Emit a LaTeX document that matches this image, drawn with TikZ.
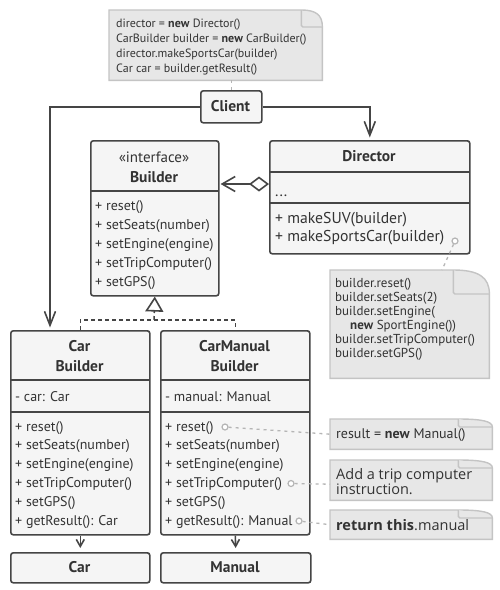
\documentclass[tikz,border=0pt]{standalone}
\usepackage{fontspec}
\setmainfont{PT Sans}
\newfontfamily\opensans{Open Sans}
\usetikzlibrary{arrows.meta,calc}
\definecolor{boxc}{HTML}{454545}
\definecolor{boxfill}{HTML}{F5F5F5}
\definecolor{notefill}{HTML}{E7E7E7}
\definecolor{notedraw}{HTML}{C4C4C4}
\definecolor{dotc}{HTML}{B5B5B5}
\definecolor{txt}{HTML}{333333}
\newcommand\notefold[3]{%
  \filldraw[notestyle] (#1.north west) -- ([xshift=-#2]#1.north east)
    .. controls ([xshift=-#2*0.3]#1.north east) and ([yshift=-#3*0.3]#1.north east) ..
    ([yshift=-#3]#1.north east) -- (#1.south east) -- (#1.south west) -- cycle;
  \draw[notestyle, rounded corners=1.5pt] ([xshift=-#2]#1.north east) -- ([xshift=-#2,yshift=-#3]#1.north east) -- ([yshift=-#3]#1.north east);
}
\begin{document}
\begin{tikzpicture}[x=1pt,y=-1pt,
  cls/.style={draw=boxc, fill=boxfill, line width=1.6pt, rounded corners=2.5pt, inner sep=0, anchor=north west},
  sep/.style={draw=boxc, line width=1.6pt},
  ttl/.style={font=\fontsize{15.5}{18}\selectfont\bfseries, text=txt, inner sep=0, anchor=base},
  stereo/.style={font=\fontsize{15}{18}\selectfont, text=txt, inner sep=0, anchor=base},
  mth/.style={font=\fontsize{14}{16}\selectfont, text=txt, anchor=base west, inner sep=0},
  dmth/.style={font=\fontsize{15.7}{18}\selectfont, text=txt, anchor=base west, inner sep=0},
  notebox/.style={draw=none, inner sep=0, anchor=north west},
  notestyle/.style={draw=notedraw, fill=notefill, line width=1.4pt},
  ntxt/.style={font=\fontsize{12}{14}\selectfont, text=txt, inner sep=0, anchor=base west},
  dtxt/.style={font=\fontsize{13}{14}\selectfont, text=txt, inner sep=0, anchor=base west},
  rtxt/.style={font=\fontsize{14}{16}\selectfont, text=txt, inner sep=0, anchor=base west},
  otxt/.style={font=\opensans\fontsize{14.5}{16}\selectfont, text=txt, inner sep=0, anchor=base west},
  dot/.style={circle, draw=dotc, fill=white, line width=1.2pt, minimum size=6pt, inner sep=0},
  noteline/.style={draw=dotc, line width=1.3pt, dash pattern=on 3pt off 4pt},
  assoc/.style={draw=boxc, line width=1.6pt, -{Straight Barb[length=14pt,width=11pt,line width=1.6pt]}, shorten >=2.5pt},
  agg/.style={draw=boxc, line width=1.6pt, {Diamond[length=20pt,width=15pt,fill=white,line width=1.6pt]}-{Straight Barb[length=13pt,width=15pt,line width=1.6pt]}, shorten >=1pt},
  real/.style={draw=boxc, line width=1.5pt, dash pattern=on 4pt off 3pt},
  dep/.style={draw=boxc, line width=1.6pt, -{Straight Barb[length=7pt,width=8pt,line width=1.6pt]}, shorten >=4pt},
]
\useasboundingbox (0,0) rectangle (500,590);
\fill[white] (0,0) rectangle (500,590);

% ---- top note and client
\node[notebox, minimum width=213pt, minimum height=70pt] (topnote) at (109,10) {};
\notefold{topnote}{21}{17}
\foreach \t [count=\i] in {{director = \textbf{new} Director()},{CarBuilder builder = \textbf{new} CarBuilder()},{director.makeSportsCar(builder)},{Car car = builder.getResult()}}
  \node[ntxt] (top-l\i) at (116,{27.5+15.1*(\i-1)}) {\t};

\node[cls, minimum width=61pt, minimum height=32pt] (client) at (200,90) {};
\node[ttl] (client-t) at (230.5,111.5) {Client};
\draw[noteline] (topnote.south -| client.north) -- (client.north);

% ---- Builder interface
\node[cls, minimum width=128pt, minimum height=155pt] (builder) at (90,140) {};
\draw[sep] (90,191) -- (218,191);
\node[stereo] (builder-s) at (154,162) {«interface»};
\node[ttl] (builder-t) at (154,182.5) {Builder};
\foreach \m [count=\i] in {{+ reset()},{+ setSeats(number)},{+ setEngine(engine)},{+ setTripComputer()},{+ setGPS()}}
  \node[mth] (builder-m\i) at (95,{210+19*(\i-1)}) {\m};

% ---- Director
\node[cls, minimum width=200pt, minimum height=113pt] (director) at (269,140) {};
\draw[sep] (269,172) -- (469,172);
\draw[sep] (269,203) -- (469,203);
\node[ttl] (director-t) at (369,161.5) {Director};
\node[dmth] (director-a) at (275,196) {...};
\node[dmth] (director-m1) at (275,223) {+ makeSUV(builder)};
\node[dmth] (director-m2) at (275,241.5) {+ makeSportsCar(builder)};
\node[dot] (dd) at (455,241) {};

% ---- Director note
\node[notebox, minimum width=159pt, minimum height=108pt] (dnote) at (330,270) {};
\notefold{dnote}{36}{24}
\foreach \t/\dx [count=\i] in {{builder.reset()}/0,{builder.setSeats(2)}/0,{builder.setEngine(}/0,{\textbf{new} SportEngine())}/15,{builder.setTripComputer()}/0,{builder.setGPS()}/0}
  \node[dtxt] (dnote-l\i) at ({335+\dx},{287+14*(\i-1)}) {\t};
\draw[noteline] (dd) -- ([xshift=112pt]dnote.north west);

% ---- CarBuilder
\node[cls, minimum width=139pt, minimum height=204pt] (carb) at (10,330) {};
\draw[sep] (10,380) -- (149,380);
\draw[sep] (10,412) -- (149,412);
\node[ttl] (carb-t1) at (79.5,351.5) {Car};
\node[ttl] (carb-t2) at (79.5,371.5) {Builder};
\node[mth] (carb-a) at (15,401) {- car: Car};
\foreach \m [count=\i] in {{+ reset()},{+ setSeats(number)},{+ setEngine(engine)},{+ setTripComputer()},{+ setGPS()},{+ getResult(): Car}}
  \node[mth] (carb-m\i) at (15,{431+18.8*(\i-1)}) {\m};

% ---- CarManualBuilder
\node[cls, minimum width=149pt, minimum height=204pt] (cmb) at (160,330) {};
\draw[sep] (160,380) -- (309,380);
\draw[sep] (160,412) -- (309,412);
\node[ttl] (cmb-t1) at (234.5,351.5) {CarManual};
\node[ttl] (cmb-t2) at (234.5,371.5) {Builder};
\node[mth] (cmb-a) at (165,401) {- manual: Manual};
\foreach \m [count=\i] in {{+ reset()},{+ setSeats(number)},{+ setEngine(engine)},{+ setTripComputer()},{+ setGPS()},{+ getResult(): Manual}}
  \node[mth] (cmb-m\i) at (165,{431+18.8*(\i-1)}) {\m};
\node[dot] (c1) at (225,427) {};
\node[dot] (c2) at (291,483.5) {};
\node[dot] (c3) at (299,521) {};

% ---- products
\node[cls, minimum width=139pt, minimum height=30pt] (car) at (10,552) {};
\node[ttl] (car-t) at (79.5,572.5) {Car};
\node[cls, minimum width=150pt, minimum height=30pt] (manual) at (160,552) {};
\node[ttl] (manual-t) at (235,572.5) {Manual};

% ---- right notes
\node[notebox, minimum width=162pt, minimum height=30pt] (n1) at (330,419) {};
\notefold{n1}{34}{8}
\node[rtxt] (n1-t) at (336,438.5) {result = \textbf{new} Manual()};
\node[notebox, minimum width=162pt, minimum height=40pt] (n2) at (330,460) {};
\notefold{n2}{34}{8}
\node[otxt] (n2-t1) at (336,479.5) {Add a trip computer};
\node[otxt] (n2-t2) at (336,494) {instruction.};
\node[notebox, minimum width=162pt, minimum height=29pt] (n3) at (330,510) {};
\notefold{n3}{34}{8}
\node[otxt] (n3-t) at (336,530) {\textbf{return this}.manual};

\draw[noteline] (c1) -- (n1.west);
\draw[noteline] (c2) -- ([yshift=-4pt]n2.west);
\draw[noteline] (c3) -- (n3.west);

% ---- connectors
\draw[assoc] (client.west) -| ([xshift=40pt]carb.north west);
\draw[assoc] (client.east) -| (director.north);
\coordinate (aggy) at (0,184);
\draw[agg] (director.west |- aggy) -- (builder.east |- aggy);
\coordinate (rj) at (154,320);
\draw[real] (carb.north) |- (rj) -| (cmb.north);
\draw[real, -{Triangle[open, length=15pt, width=18pt, fill=white, line width=1.6pt]}] (rj) -- (builder.south);
\draw[dep] (carb.south) -- (car.north);
\draw[dep] (cmb.south) -- (manual.north);
\end{tikzpicture}
\end{document}
